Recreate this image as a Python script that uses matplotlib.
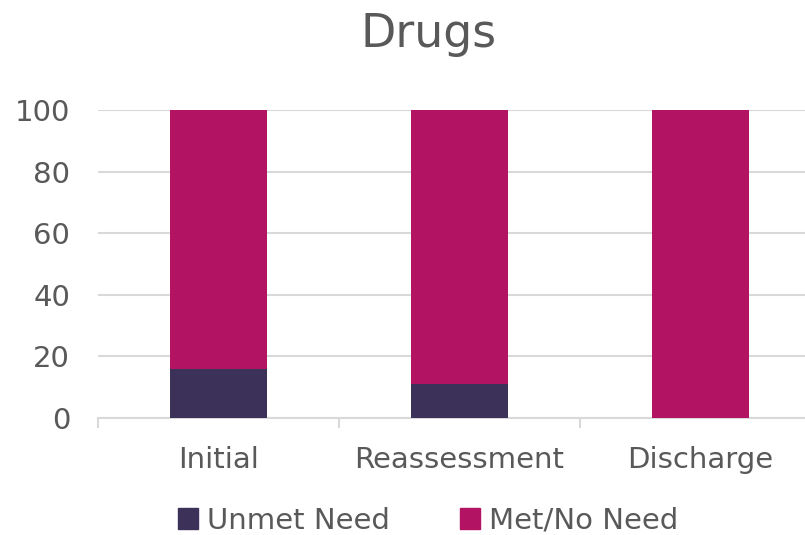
import numpy as np
import matplotlib.pyplot as plt
from matplotlib.patches import Patch

categories = ["Initial", "Reassessment", "Discharge"]
unmet_need = [16, 11, 0]
met_no_need = [84, 89, 100]
y_ticks = [0, 20, 40, 60, 80, 100]

unmet_color = "#3C3159"
met_color = "#B31363"
text_color = "#595959"
grid_color = "#D9D9D9"

plt.rcParams['font.family'] = ['DejaVu Sans']

fig = plt.figure(figsize=(8.05, 5.35), dpi=100)
ax = fig.add_axes([98 / 805, 117 / 535, 723 / 805, 308 / 535])

x = np.arange(len(categories))
ax.bar(x, unmet_need, width=0.4, color=unmet_color, zorder=3)
ax.bar(x, met_no_need, width=0.4, bottom=unmet_need, color=met_color, zorder=3)

ax.set_xlim(-0.5, len(categories) - 0.5)
ax.set_ylim(0, 100)
ax.set_yticks(y_ticks)
ax.yaxis.grid(True, color=grid_color, linewidth=1.5, zorder=0)
ax.set_axisbelow(True)

for side in ["top", "right", "left"]:
    ax.spines[side].set_visible(False)
ax.spines["bottom"].set_color(grid_color)
ax.spines["bottom"].set_linewidth(1.5)

# category labels centred on bars, tick marks on the category boundaries
ax.set_xticks(x)
ax.set_xticklabels(categories)
ax.set_xticks(np.arange(len(categories) + 1) - 0.5, minor=True)
ax.tick_params(axis="x", which="major", length=0, pad=20, labelsize=21, labelcolor=text_color)
ax.tick_params(axis="x", which="minor", length=7, width=1.5, color=grid_color)
ax.tick_params(axis="y", length=0, pad=20, labelsize=21, labelcolor=text_color)

fig.text(0.532, 0.936, "Drugs", ha="center", va="center", fontsize=33, color=text_color)

handles = [Patch(color=unmet_color, label="Unmet Need"),
           Patch(color=met_color, label="Met/No Need")]
fig.legend(handles=handles, loc="center", bbox_to_anchor=(0.532, 0.027), ncol=2,
           frameon=False, fontsize=21, labelcolor=text_color,
           handlelength=0.7, handleheight=0.7, handletextpad=0.3, columnspacing=2.4)

fig.savefig("out.png", dpi=100)
